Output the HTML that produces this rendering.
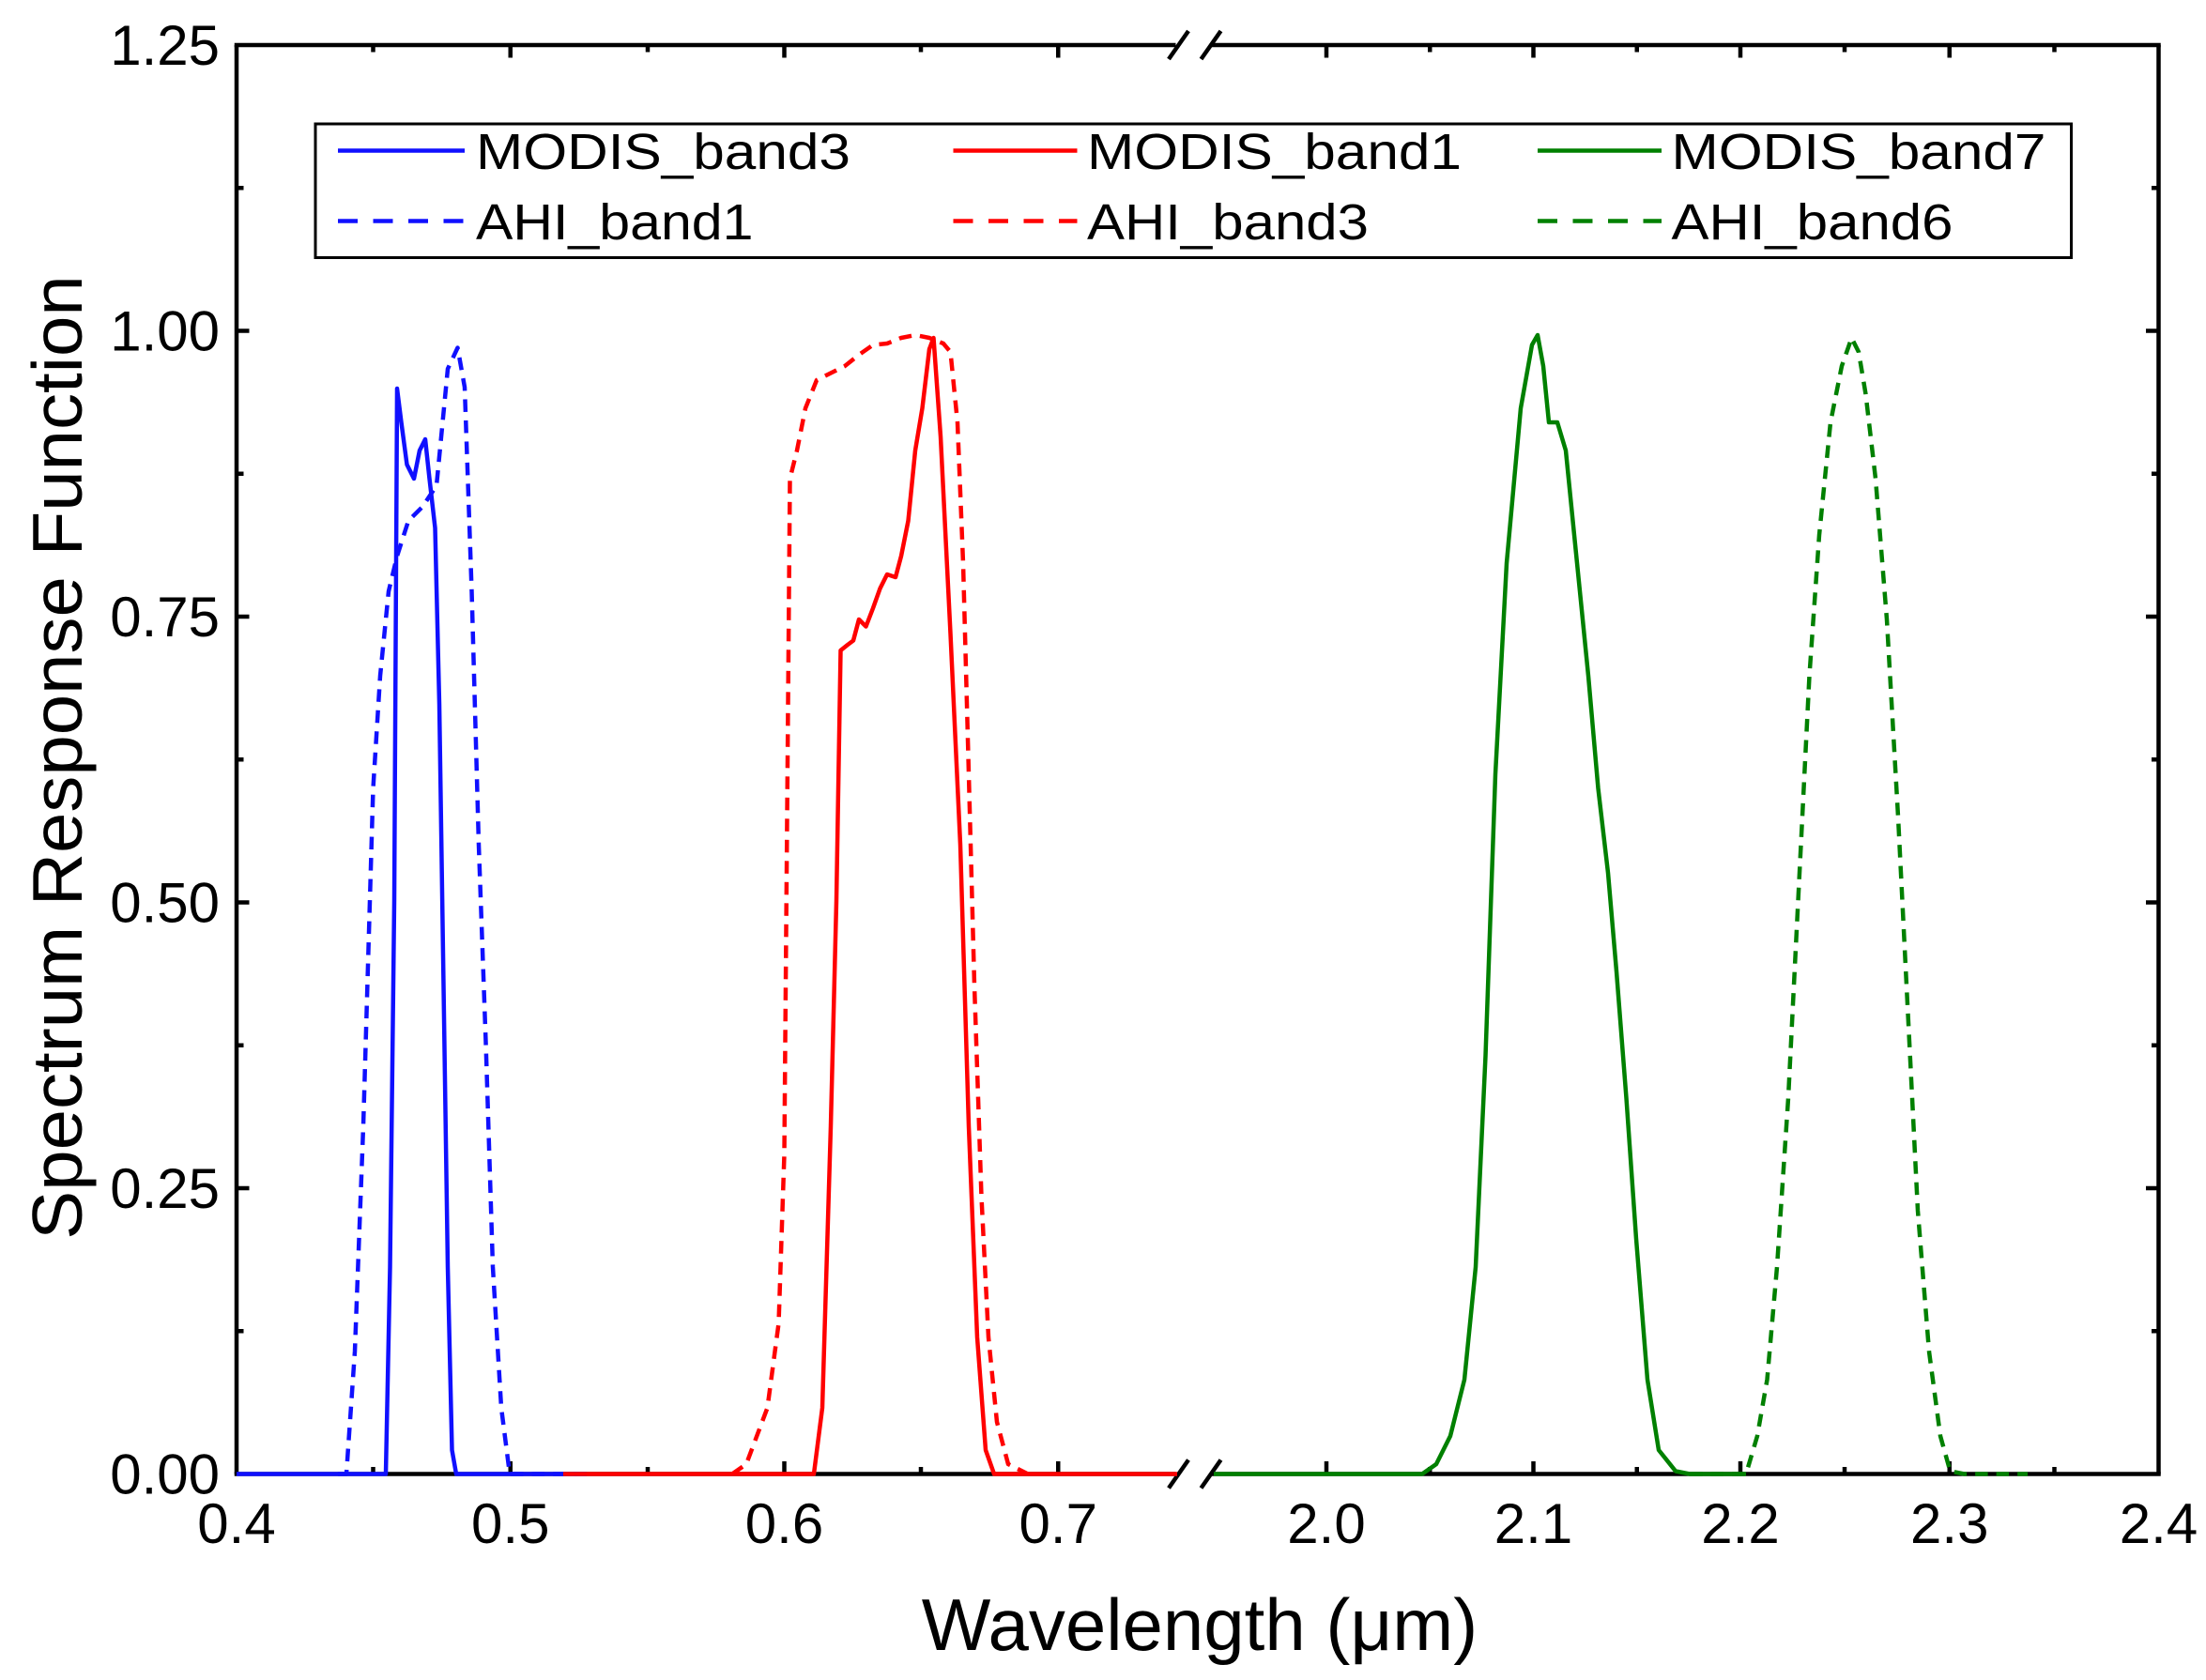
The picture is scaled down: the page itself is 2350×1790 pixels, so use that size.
<!DOCTYPE html>
<html><head><meta charset="utf-8"><style>html,body{margin:0;padding:0;background:#fff}svg{display:block}</style></head>
<body>
<svg width="2350" height="1790" viewBox="0 0 1566.67 1193.33" xmlns="http://www.w3.org/2000/svg" font-family="Liberation Sans, Arial, sans-serif">
<rect width="1566.67" height="1193.33" fill="#fff"/>
<g stroke="#000" stroke-width="3" fill="none">
<line x1="168" y1="32" x2="168" y2="1047"/>
<line x1="1533" y1="32" x2="1533" y2="1047"/>
<line x1="166.5" y1="32" x2="835" y2="32"/>
<line x1="860" y1="32" x2="1534.5" y2="32"/>
<line x1="166.5" y1="1047" x2="835" y2="1047"/>
<line x1="860" y1="1047" x2="1534.5" y2="1047"/>
<line x1="830" y1="42" x2="844" y2="22"/><line x1="853" y1="42" x2="867" y2="22"/>
<line x1="830" y1="1057" x2="844" y2="1037"/><line x1="853" y1="1057" x2="867" y2="1037"/>
<path d="M168 235h9M168 438h9M168 641h9M168 844h9M168 133.5h5M168 336.5h5M168 539.5h5M168 742.5h5M168 945.5h5
M1533 235h-9M1533 438h-9M1533 641h-9M1533 844h-9M1533 133.5h-5M1533 336.5h-5M1533 539.5h-5M1533 742.5h-5M1533 945.5h-5"/>
<path d="M362.5 1047v-9M557 1047v-9M751.5 1047v-9M265 1047v-5M460 1047v-5M654 1047v-5
M942 1047v-9M1089 1047v-9M1236 1047v-9M1384.5 1047v-9M1015.5 1047v-5M1162.5 1047v-5M1310 1047v-5M1459 1047v-5
M362.5 32v9M557 32v9M751.5 32v9M265 32v5M460 32v5M654 32v5
M942 32v9M1089 32v9M1236 32v9M1384.5 32v9M1015.5 32v5M1162.5 32v5M1310 32v5M1459 32v5"/>
</g>
<g font-size="40" fill="#000" text-anchor="end">
<text x="156" y="46">1.25</text>
<text x="156" y="249">1.00</text>
<text x="156" y="452">0.75</text>
<text x="156" y="655">0.50</text>
<text x="156" y="858">0.25</text>
<text x="156" y="1061">0.00</text>
</g>
<g font-size="40" fill="#000" text-anchor="middle">
<text x="168" y="1096">0.4</text>
<text x="362.5" y="1096">0.5</text>
<text x="557" y="1096">0.6</text>
<text x="751.5" y="1096">0.7</text>
<text x="942" y="1096">2.0</text>
<text x="1089" y="1096">2.1</text>
<text x="1236" y="1096">2.2</text>
<text x="1384.5" y="1096">2.3</text>
<text x="1533" y="1096">2.4</text>
</g>
<text x="852" y="1172" font-size="52" text-anchor="middle" textLength="395" lengthAdjust="spacingAndGlyphs">Wavelength (μm)</text>
<text transform="translate(58,538) rotate(-90)" font-size="50" text-anchor="middle" textLength="685" lengthAdjust="spacingAndGlyphs">Spectrum Response Function</text>

<g fill="none" stroke-width="3" stroke-linejoin="round">
<polyline stroke="#1010ff" points="168,1047 274,1047 277,900 280,640 282,276 285,300 289,330 294,340 298,320 302,312 305,340 309,375 312,500 315,700 318,900 321,1030 324,1047 410,1047"/>
<polyline stroke="#1010ff" stroke-dasharray="9,6" points="240,1047 246,1047 252,960 258,800 265,560 270,480 276,420 282,395 290,370 300,360 310,345 318,262 325,247 330,275 335,420 340,600 345,740 350,900 356,1000 362,1047 420,1047"/>
<polyline stroke="#ff0000" points="400,1047 578,1047 584,1000 590,800 594,640 597,462 602,458 606,455 610,440 615,445 620,432 625,418 630,408 636,410 640,395 645,370 650,320 655,290 660,248 663,240 668,310 675,450 682,600 688,800 694,950 700,1030 706,1047 836,1047"/>
<polyline stroke="#ff0000" stroke-dasharray="9,6" points="520,1047 530,1040 545,1000 553,940 557,820 561,340 566,320 572,290 580,270 590,265 600,260 610,252 620,245 630,244 640,240 650,238 660,240 670,244 675,250 680,300 684,400 688,550 692,700 697,850 702,950 708,1010 716,1040 730,1047"/>
<polyline stroke="#008000" points="862,1047 1010,1047 1020,1040 1030,1020 1040,980 1048,900 1055,750 1062,550 1070,400 1080,290 1088,245 1092,238 1096,260 1100,300 1106,300 1112,320 1120,400 1128,480 1135,560 1142,620 1148,690 1155,780 1162,880 1170,980 1178,1030 1190,1045 1200,1047 1240,1047"/>
<polyline stroke="#008000" stroke-dasharray="9,6" points="1200,1047 1240,1047 1248,1020 1255,980 1262,900 1270,780 1278,620 1285,480 1292,380 1300,300 1308,260 1315,240 1320,250 1325,280 1332,340 1340,440 1348,580 1355,720 1362,860 1370,960 1378,1020 1385,1045 1395,1047 1440,1047"/>
</g>

<rect x="224" y="88" width="1247" height="95" fill="#fff" stroke="#000" stroke-width="2"/>
<g stroke-width="3">
<line x1="240" y1="107" x2="330" y2="107" stroke="#1010ff"/>
<line x1="240" y1="157" x2="330" y2="157" stroke="#1010ff" stroke-dasharray="14,11"/>
<line x1="677" y1="107" x2="765" y2="107" stroke="#ff0000"/>
<line x1="677" y1="157" x2="765" y2="157" stroke="#ff0000" stroke-dasharray="14,11"/>
<line x1="1092" y1="107" x2="1180" y2="107" stroke="#008000"/>
<line x1="1092" y1="157" x2="1180" y2="157" stroke="#008000" stroke-dasharray="14,11"/>
</g>
<g font-size="36" fill="#000">
<text x="338" y="120" textLength="266" lengthAdjust="spacingAndGlyphs">MODIS_band3</text>
<text x="338" y="170" textLength="197" lengthAdjust="spacingAndGlyphs">AHI_band1</text>
<text x="772" y="120" textLength="266" lengthAdjust="spacingAndGlyphs">MODIS_band1</text>
<text x="772" y="170" textLength="200" lengthAdjust="spacingAndGlyphs">AHI_band3</text>
<text x="1187" y="120" textLength="266" lengthAdjust="spacingAndGlyphs">MODIS_band7</text>
<text x="1187" y="170" textLength="200" lengthAdjust="spacingAndGlyphs">AHI_band6</text>
</g>
</svg>
</body></html>
